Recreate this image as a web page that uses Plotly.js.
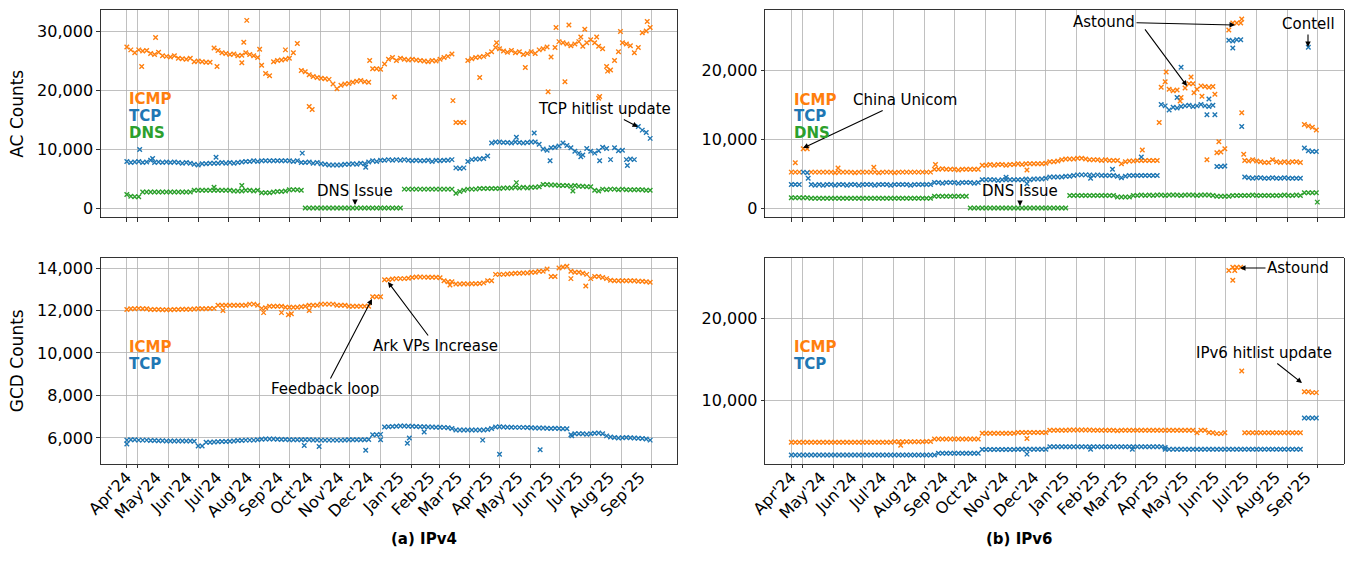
<!DOCTYPE html>
<html><head><meta charset="utf-8">
<script src="https://cdn.plot.ly/plotly-3.0.1.min.js"></script>
<style>html,body{margin:0;padding:0;background:#fff}#chart{width:1346px;height:563px}</style>
</head><body><div id="chart"></div>
<script>
// ---------------- DATA ----------------
const START_DATE = '2024-04-20';   // first measurement day
const STEP_DAYS = 4;               // one sample every 4 days

const gridDates = ['2024-04-20','2024-05-01','2024-06-01','2024-07-01','2024-08-01','2024-09-01','2024-10-01','2024-11-01','2024-12-01',
  '2025-01-01','2025-02-01','2025-03-01','2025-04-01','2025-05-01','2025-06-01','2025-07-01','2025-08-01','2025-09-01','2025-10-01'];
const labelDates = ['2024-04-20','2024-05-20','2024-06-20','2024-07-20','2024-08-20','2024-09-20','2024-10-20','2024-11-20','2024-12-20',
  '2025-01-20','2025-02-20','2025-03-20','2025-04-20','2025-05-20','2025-06-20','2025-07-20','2025-08-20','2025-09-20'];
const labelText = ["Apr'24","May'24","Jun'24","Jul'24","Aug'24","Sep'24","Oct'24","Nov'24","Dec'24",
  "Jan'25","Feb'25","Mar'25","Apr'25","May'25","Jun'25","Jul'25","Aug'25","Sep'25"];

// (a) IPv4 - AC counts
const v4AcIcmp = [
27300,26800,26300,26800,26600,26700,26200,26000,26400,25800,
25700,25600,25800,25400,25300,25200,25400,24800,24900,24800,
24700,24700,27100,26700,26300,26200,26000,26100,25800,25900,
26300,26000,25800,25500,24200,22800,22400,24800,25000,25100,
25200,25400,26300,27900,23300,23100,22600,22300,22100,22000,
21900,21800,21000,20200,20800,21000,21100,21300,21500,21600,
21400,21300,23600,23600,23500,24400,25200,25500,25000,25400,
25200,25100,25200,25100,25000,24900,24800,25000,24900,25200,
25500,25700,26100,14500,14500,14500,25000,25300,25500,25600,
25700,26000,26500,27200,27000,26600,26400,26700,26300,26500,
26000,26200,26500,26200,26800,27000,27300,25600,27200,28200,
28000,27800,27500,27800,28200,27400,28000,28500,28000,27400,
27000,24000,23400,25000,26500,28000,27800,27500,26300,27200,
29700,30000,30600];
const v4AcIcmpOutDay = [15,29,91,116,118,121,134,160,184,187,245,270,329,356,373,402,425,433,442,446,458,462,474,476,477,485,498,525];
const v4AcIcmpOutVal = [24000,28900,24000,24600,28100,31800,26900,26800,17200,16700,25000,18800,18200,22100,28000,23800,19700,30600,21400,31000,29000,30300,29000,18600,18900,23200,29900,31600];

const v4AcTcp = [
7900,7700,7800,7900,7700,7800,8100,7700,7800,7700,
7800,7700,7800,7700,7600,7700,7600,7400,7300,7500,
7500,7600,7600,7600,7700,7600,7700,7600,7700,7800,
7900,7900,8000,7900,8000,8000,8000,8000,8000,8000,
8000,8000,7900,8000,7700,7700,7800,7600,7700,7500,
7400,7300,7300,7300,7300,7400,7400,7500,7400,7600,
7500,7800,8000,7900,8100,8100,8200,8100,8200,8100,
8200,8100,8000,8100,8000,8000,8100,7900,8100,8000,
8100,8100,8200,6800,6700,6800,7900,8200,8300,8300,
8400,8800,11000,11200,11200,11100,11100,11000,11200,11100,
11000,11100,11200,11200,10800,10000,9800,10200,10300,10500,
11000,10600,10200,9600,9300,9000,10100,9600,9300,9700,
10300,10100,8200,10200,9700,9800,8200,8300,8200,13800,
13200,12800,11800];
const v4AcTcpOutDay = [13,26,90,177,241,393,411,427,458,477,505];
const v4AcTcpOutVal = [9900,8400,8600,9300,6900,12000,12700,8000,8700,8000,7200];

const v4AcDns = [
2300,2000,1900,1900,2700,2700,2700,2700,2700,2700,
2700,2700,2700,2700,2700,2700,2700,3000,3000,3000,
3000,3000,3000,3000,3000,3000,3000,2900,2900,2900,
3000,3000,2900,3000,2600,2600,2600,2700,2800,2800,
2900,3100,3100,3100,3000,0,0,0,0,0,
0,0,0,0,0,0,0,0,0,0,
0,0,0,0,0,0,0,0,0,0,
3200,3200,3200,3200,3200,3200,3200,3200,3200,3200,
3200,3200,3200,2500,2800,3000,3200,3200,3200,3300,
3300,3300,3300,3300,3300,3400,3400,3400,3500,3400,
3500,3400,3500,3500,3600,4000,4000,3900,3900,3800,
3800,3800,3700,3800,3700,3700,3600,3600,3000,2900,
3200,3100,3200,3200,3100,3200,3100,3100,3100,3100,
3100,3000,3000];
const v4AcDnsOutDay = [88,116,393,450];
const v4AcDnsOutVal = [3500,3800,4300,2900];

// (a) IPv4 - GCD counts
const v4GcdIcmp = [
12050,12080,12080,12100,12080,12080,12050,12050,12050,12030,
12030,12040,12050,12050,12060,12060,12060,12070,12080,12080,
12080,12090,12100,12250,12250,12250,12250,12250,12250,12250,
12250,12300,12300,12250,12100,12130,12200,12200,12200,12200,
12150,12150,12150,12150,12180,12200,12250,12250,12250,12300,
12300,12300,12300,12250,12250,12250,12200,12200,12200,12200,
12200,12200,12650,12650,12650,13450,13450,13480,13500,13500,
13500,13520,13550,13580,13580,13570,13560,13560,13560,13540,
13400,13350,13350,13250,13250,13260,13250,13260,13260,13270,
13300,13400,13400,13700,13700,13700,13720,13730,13750,13750,
13760,13760,13800,13800,13850,13850,13950,13600,13600,14000,
14050,14080,13850,13800,13800,13750,13700,13500,13600,13600,
13550,13500,13420,13400,13400,13400,13400,13400,13400,13380,
13380,13350,13330];
const v4GcdIcmpOutDay = [97,138,156,163,166,184,326,448,463];
const v4GcdIcmpOutVal = [12000,11900,11900,11800,11850,12000,13200,13500,13150];

const v4GcdTcp = [
5900,5920,5920,5900,5900,5900,5880,5880,5870,5870,
5860,5860,5860,5860,5860,5860,5860,5850,5620,5620,
5800,5800,5810,5820,5830,5840,5850,5860,5880,5880,
5900,5900,5900,5920,5940,5950,5950,5950,5940,5930,
5930,5920,5920,5920,5920,5920,5920,5910,5910,5900,
5900,5900,5900,5900,5900,5910,5920,5920,5920,5920,
5920,5930,6150,6150,6170,6520,6530,6540,6550,6560,
6560,6550,6550,6540,6530,6530,6520,6520,6510,6510,
6500,6480,6450,6380,6380,6380,6380,6380,6380,6380,
6380,6400,6450,6520,6530,6520,6510,6510,6500,6500,
6500,6490,6480,6470,6470,6470,6460,6450,6460,6450,
6440,6430,6150,6200,6200,6200,6180,6200,6220,6230,
6200,6100,6050,6020,6000,6010,6020,6010,6000,5990,
5980,5950,5900];
const v4GcdTcpOutDay = [0,179,194,241,256,283,285,300,359,376,417,449];
const v4GcdTcpOutVal = [5720,5650,5600,5420,5920,5750,6000,6280,5900,5230,5450,6100];

// (b) IPv6 - AC counts
const v6AcIcmp = [
5200,5200,5200,8600,8600,5200,5200,5200,5200,5200,
5200,5100,5200,5200,5200,5200,5100,5200,5200,5200,
5200,5200,5100,5200,5200,5200,5100,5200,5200,5200,
5200,5200,5200,5200,5200,5200,5600,5600,5700,5600,
5600,5600,5500,5600,5600,5600,5600,5600,6200,6200,
6300,6200,6300,6300,6200,6300,6300,6400,6300,6400,
6400,6400,6400,6400,6500,6700,6700,6800,7000,7100,
7100,7100,7200,7200,7100,7000,7000,7000,6900,7000,
6900,6900,6900,6400,6700,6800,6800,6900,6900,6900,
6900,6900,6900,17500,18300,17200,17000,17100,16000,17400,
18000,18000,17200,17700,17600,17500,17600,8000,8100,8600,
25800,26800,26800,26800,6900,6800,7000,6800,6700,6600,
6600,7000,6700,6600,6700,6600,6700,6700,6600,12100,
11900,11700,11300];
const v6AcIcmpOutDay = [4,47,83,145,237,353,370,377,391,402,405,413,418,426,430,453,453,455];
const v6AcIcmpOutVal = [6550,5800,5900,6300,5500,8400,12400,19700,15500,19000,16700,16200,7000,16500,9600,27400,13800,7800];

const v6AcTcp = [
3400,3400,3400,5200,5100,3400,3300,3400,3300,3400,
3400,3300,3400,3400,3300,3400,3400,3300,3400,3400,
3400,3300,3400,3400,3400,3300,3400,3400,3400,3400,
3300,3400,3400,3400,3400,3400,3700,3700,3600,3700,
3700,3700,3600,3700,3700,3700,3600,3700,4100,4100,
4100,4100,4000,4100,4100,4100,4100,4100,4100,4200,
4100,4200,4200,4200,4300,4500,4500,4500,4500,4600,
4600,4700,4800,4800,4800,4800,4700,4800,4700,4700,
4700,4700,4600,4400,4600,4700,4700,4700,4700,4700,
4700,4700,4700,15000,14800,14200,14600,14500,14700,14800,
14900,14700,14800,15000,14800,14700,14900,6000,6000,6100,
24300,24200,24400,24400,4500,4400,4300,4400,4400,4300,
4300,4400,4300,4300,4400,4300,4300,4300,4300,8700,
8300,8200,8200];
const v6AcTcpOutDay = [17,216,237,301,323,352,388,392,418,420,426,444,453,520];
const v6AcTcpOutVal = [4300,4450,3500,4300,5600,7400,16000,20400,13500,15800,13500,23200,11800,23300];

const v6AcDns = [
1500,1500,1500,1500,1500,1400,1400,1400,1400,1400,
1400,1400,1400,1400,1400,1400,1400,1400,1400,1400,
1400,1400,1400,1400,1400,1400,1400,1400,1400,1400,
1400,1400,1400,1400,1400,1400,1700,1700,1700,1700,
1700,1700,1700,1700,1700,0,0,0,0,0,
0,0,0,0,0,0,0,0,0,0,
0,0,0,0,0,0,0,0,0,0,
1800,1800,1800,1800,1800,1800,1800,1800,1800,1800,
1800,1800,1600,1600,1600,1600,1800,1800,1900,1800,
1900,1800,1900,1900,1800,1900,1900,1900,1800,1900,
1900,1900,1800,1900,1900,1900,1800,1700,1700,1700,
1700,1800,1800,1800,1800,1800,1900,1800,1800,1800,
1800,1800,1800,1800,1900,1800,1800,1900,1800,2200,
2200,2200,2200];
const v6AcDnsOutDay = [529];
const v6AcDnsOutVal = [850];

// (b) IPv6 - GCD counts
const v6GcdIcmp = [
4850,4850,4850,4850,4850,4850,4850,4850,4850,4850,
4850,4850,4850,4850,4850,4850,4850,4850,4850,4850,
4850,4850,4850,4850,4850,4850,4900,4900,4900,4900,
4900,4900,4900,4900,4950,4950,5250,5250,5250,5250,
5250,5250,5250,5250,5250,5250,5250,5250,5950,5950,
5950,5950,5950,5950,5950,5950,5950,6050,6050,6050,
6050,6050,6050,6050,6050,6300,6300,6300,6300,6300,
6350,6350,6350,6350,6350,6350,6300,6300,6300,6300,
6300,6300,6250,6300,6300,6300,6300,6300,6300,6300,
6300,6300,6300,6300,6300,6300,6300,6300,6300,6300,
6300,6300,6000,6300,6300,6050,6000,5900,5900,6000,
25800,26200,26200,26200,6000,6000,6000,6000,6000,6000,
6000,6000,6000,6000,6000,6000,6000,6000,6000,11000,
11000,10900,10900];
const v6GcdIcmpOutDay = [110,237,444,446,453];
const v6GcdIcmpOutVal = [4490,5300,24600,25800,13550];

const v6GcdTcp = [
3300,3300,3300,3300,3300,3300,3300,3300,3300,3300,
3300,3300,3300,3300,3300,3300,3300,3300,3300,3300,
3300,3300,3300,3300,3300,3300,3300,3300,3300,3300,
3300,3300,3300,3300,3300,3300,3300,3500,3500,3500,
3500,3500,3500,3500,3500,3500,3500,3500,3950,3950,
3950,3950,3950,3950,3950,3950,3950,4000,4000,4000,
4000,4000,4000,4000,4000,4300,4300,4300,4300,4300,
4300,4300,4300,4300,4300,4300,4300,4300,4300,4300,
4300,4300,4300,4300,4300,4300,4300,4300,4300,4300,
4300,4300,4300,4300,4000,4000,4000,4000,4000,4000,
4000,4000,4000,4000,4000,4000,4000,4000,4000,4000,
4000,4000,4000,4000,4000,4000,4000,4000,4000,4000,
4000,4000,4000,4000,4000,4000,4000,4000,4000,7800,
7800,7800,7800];
const v6GcdTcpOutDay = [237,301,343,376];
const v6GcdTcpOutVal = [3400,4000,4000,4200];

// ---------------- CHART ----------------
const W = 1346, H = 563;
const ORANGE = '#ff7f0e', BLUE = '#1f77b4', GREEN = '#2ca02c';
const DAY = 86400000;
const t0 = Date.parse(START_DATE + 'T00:00:00Z');
function dayStr(d) { return new Date(t0 + d * DAY).toISOString().replace('T', ' ').replace('Z', ''); }
function dateOnly(d) { return new Date(t0 + d * DAY).toISOString().slice(0, 10); }
const LAST_DAY = (v4AcIcmp.length - 1) * STEP_DAYS + 1;
const pad = LAST_DAY * 0.05;
const xRange = [dayStr(-pad), dayStr(LAST_DAY + pad)];

function series(vals, outDay, outVal, color, xa, ya) {
  const x = vals.map((_, i) => dateOnly(i * STEP_DAYS)).concat(outDay.map(dateOnly));
  const y = vals.concat(outVal);
  return { type: 'scatter', mode: 'markers', x, y, xaxis: xa, yaxis: ya, showlegend: false, hoverinfo: 'skip',
    marker: { symbol: 'x-thin', size: 4.5, color, line: { color, width: 1.4 } } };
}

const traces = [
  series(v4AcIcmp, v4AcIcmpOutDay, v4AcIcmpOutVal, ORANGE, 'x', 'y'),
  series(v4AcTcp, v4AcTcpOutDay, v4AcTcpOutVal, BLUE, 'x', 'y'),
  series(v4AcDns, v4AcDnsOutDay, v4AcDnsOutVal, GREEN, 'x', 'y'),
  series(v6AcIcmp, v6AcIcmpOutDay, v6AcIcmpOutVal, ORANGE, 'x2', 'y2'),
  series(v6AcTcp, v6AcTcpOutDay, v6AcTcpOutVal, BLUE, 'x2', 'y2'),
  series(v6AcDns, v6AcDnsOutDay, v6AcDnsOutVal, GREEN, 'x2', 'y2'),
  series(v4GcdIcmp, v4GcdIcmpOutDay, v4GcdIcmpOutVal, ORANGE, 'x3', 'y3'),
  series(v4GcdTcp, v4GcdTcpOutDay, v4GcdTcpOutVal, BLUE, 'x3', 'y3'),
  series(v6GcdIcmp, v6GcdIcmpOutDay, v6GcdIcmpOutVal, ORANGE, 'x4', 'y4'),
  series(v6GcdTcp, v6GcdTcpOutDay, v6GcdTcpOutVal, BLUE, 'x4', 'y4'),
  { type: 'scatter', mode: 'markers', x: [], y: [], xaxis: 'x5', yaxis: 'y3', showlegend: false, hoverinfo: 'skip' },
  { type: 'scatter', mode: 'markers', x: [], y: [], xaxis: 'x6', yaxis: 'y4', showlegend: false, hoverinfo: 'skip' }
];

const FONT = 'DejaVu Sans, Arial, sans-serif';
const LEFT_DOM = [100.6 / W, 677.4 / W];
const RIGHT_DOM = [765 / W, 1343.6 / W];
const TOP_DOM = [1 - 217.5 / H, 1 - 10 / H];
const BOT_DOM = [1 - 464 / H, 1 - 257.5 / H];

function xAx(domain, anchor) {
  return { domain, anchor, type: 'date', range: xRange, tickmode: 'array', tickvals: gridDates, showticklabels: false,
    ticks: 'outside', ticklen: 3.5, tickwidth: 0.8, tickcolor: '#000', showgrid: true, gridcolor: '#b0b0b0', gridwidth: 0.8,
    showline: true, mirror: true, linecolor: '#000', linewidth: 0.8, zeroline: false };
}
function yAx(domain, anchor, range, tickvals, title) {
  const a = { domain, anchor, range, tickmode: 'array', tickvals, tickformat: ',', ticks: 'outside', ticklen: 3.5, tickwidth: 0.8,
    tickcolor: '#000', tickfont: { size: 16, family: FONT, color: '#000' }, showgrid: true, gridcolor: '#b0b0b0', gridwidth: 0.8,
    showline: true, mirror: true, linecolor: '#000', linewidth: 0.8, zeroline: false };
  if (title) a.title = { text: title, font: { size: 17, family: FONT, color: '#000' }, standoff: 9 };
  return a;
}
function labelAx(over, anchor) {
  return { overlaying: over, anchor, type: 'date', range: xRange, tickmode: 'array', tickvals: labelDates, ticktext: labelText,
    tickangle: -45, ticks: '', showgrid: false, zeroline: false, showline: false, side: 'bottom',
    tickfont: { size: 16, family: FONT, color: '#000' } };
}

function note(text, tipX, tipY, cx, cy) {
  return { xref: 'paper', yref: 'paper', x: tipX / W, y: 1 - tipY / H, ax: cx - tipX, ay: cy - tipY, text,
    showarrow: true, arrowhead: 2, arrowsize: 1, arrowwidth: 1.1, arrowcolor: '#000',
    font: { size: 15, family: FONT, color: '#000' } };
}
function tag(text, color, x, y) {
  return { xref: 'paper', yref: 'paper', x: x / W, y: 1 - y / H, xanchor: 'left', yanchor: 'middle', showarrow: false,
    borderpad: 0, text: '<b>' + text + '</b>', font: { size: 15, family: FONT, color } };
}

const annotations = [
  note('DNS Issue', 355, 205, 355, 191),
  note('TCP hitlist update', 638, 127, 604, 109),
  note('China Unicom', 803, 148, 905, 100),
  note('Astound', 1235, 25, 1104, 22),
  note(' ', 1187, 86, 1141, 24),
  note('Contell', 1308, 47, 1308, 24),
  note('DNS Issue', 1020, 206, 1020, 191),
  note('Feedback loop', 372, 299, 325, 389),
  note('Ark VPs Increase', 388, 282, 436, 346),
  note('Astound', 1240, 268, 1298, 268),
  note('IPv6 hitlist update', 1302, 383, 1264, 353),
  tag('ICMP', ORANGE, 128, 99), tag('TCP', BLUE, 128, 116), tag('DNS', GREEN, 128, 133),
  tag('ICMP', ORANGE, 793, 100), tag('TCP', BLUE, 793, 116), tag('DNS', GREEN, 793, 133),
  tag('ICMP', ORANGE, 128, 347), tag('TCP', BLUE, 128, 364),
  tag('ICMP', ORANGE, 793, 347), tag('TCP', BLUE, 793, 364),
  { xref: 'paper', yref: 'paper', x: 389 / W, y: 1 - 550 / H, showarrow: false, text: '<b>(a) IPv4</b>',
    font: { size: 15, family: FONT, color: '#000' } },
  { xref: 'paper', yref: 'paper', x: 1054 / W, y: 1 - 550 / H, showarrow: false, text: '<b>(b) IPv6</b>',
    font: { size: 15, family: FONT, color: '#000' } }
];

const layout = {
  width: W, height: H, margin: { l: 0, r: 0, t: 0, b: 0 },
  paper_bgcolor: '#fff', plot_bgcolor: '#fff', showlegend: false,
  font: { family: FONT, size: 15, color: '#000' },
  xaxis: xAx(LEFT_DOM, 'y'),
  yaxis: yAx(TOP_DOM, 'x', [-1610, 33560], [0, 10000, 20000, 30000], 'AC Counts'),
  xaxis2: xAx(RIGHT_DOM, 'y2'),
  yaxis2: yAx(TOP_DOM, 'x2', [-1377, 28696], [0, 10000, 20000], null),
  xaxis3: xAx(LEFT_DOM, 'y3'),
  yaxis3: yAx(BOT_DOM, 'x3', [4776, 14494], [6000, 8000, 10000, 12000, 14000], 'GCD Counts'),
  xaxis4: xAx(RIGHT_DOM, 'y4'),
  yaxis4: yAx(BOT_DOM, 'x4', [2195, 27378], [10000, 20000], null),
  xaxis5: labelAx('x3', 'y3'),
  xaxis6: labelAx('x4', 'y4'),
  annotations
};

Plotly.newPlot('chart', traces, layout, { staticPlot: true });
</script></body></html>
